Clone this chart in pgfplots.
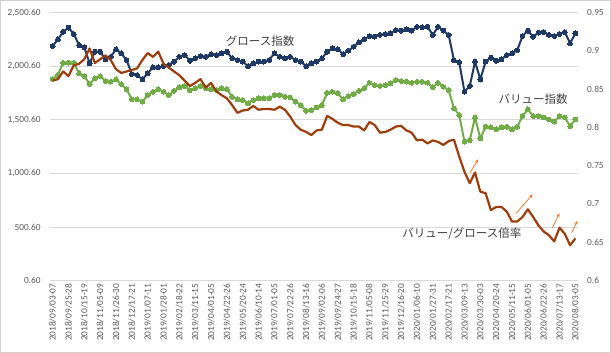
\documentclass[border=0pt]{standalone}
\usepackage{fontspec}
\setmainfont{Carlito}
\newfontfamily\jp{Noto Sans CJK JP}
\usepackage{pgfplots}
\pgfplotsset{compat=1.18}
\usepackage{pgfplotstable}
\usetikzlibrary{arrows.meta}
\definecolor{navy}{HTML}{203864}
\definecolor{vgreen}{HTML}{70AD47}
\definecolor{rbrown}{HTML}{9E3D0C}
\definecolor{arrowc}{HTML}{ED7D31}
\definecolor{gridgray}{HTML}{D9D9D9}
\definecolor{labelgray}{HTML}{595959}
\definecolor{textgray}{HTML}{404040}
\definecolor{bordergray}{HTML}{D0D0D0}

\pgfplotstableread{
idx growth value ratio
0 2188 1880 0.861
1 2250 1917 0.863
2 2321 2032 0.873
3 2359 2032 0.867
4 2300 2032 0.881
5 2197 1933 0.883
6 2176 1908 0.889
7 2026 1833 0.903
8 2135 1886 0.884
9 2135 1908 0.889
10 2064 1861 0.894
11 2088 1855 0.888
12 2157 1877 0.876
13 2120 1833 0.871
14 2057 1784 0.873
15 1927 1691 0.875
16 1917 1691 0.877
17 1877 1668 0.888
18 1933 1731 0.897
19 1989 1761 0.892
20 1989 1784 0.899
21 2001 1761 0.883
22 2011 1731 0.878
23 2042 1771 0.873
24 2088 1802 0.868
25 2104 1815 0.861
26 2051 1777 0.854
27 2073 1793 0.858
28 2095 1815 0.863
29 2088 1793 0.852
30 2113 1784 0.858
31 2104 1777 0.847
32 2120 1793 0.842
33 2135 1784 0.838
34 2073 1714 0.829
35 2057 1691 0.819
36 2042 1684 0.822
37 2001 1653 0.823
38 2026 1684 0.828
39 2042 1700 0.823
40 2042 1700 0.824
41 2057 1700 0.824
42 2120 1731 0.823
43 2088 1731 0.827
44 2073 1714 0.823
45 2088 1707 0.814
46 2057 1668 0.803
47 2042 1637 0.797
48 2001 1584 0.794
49 2026 1590 0.790
50 2042 1615 0.796
51 2073 1637 0.797
52 2135 1752 0.815
53 2166 1761 0.811
54 2157 1746 0.806
55 2113 1691 0.803
56 2144 1721 0.803
57 2181 1740 0.801
58 2222 1771 0.801
59 2250 1793 0.796
60 2281 1845 0.807
61 2275 1824 0.803
62 2291 1815 0.793
63 2300 1824 0.794
64 2306 1840 0.797
65 2337 1871 0.801
66 2331 1861 0.802
67 2344 1855 0.796
68 2331 1845 0.793
69 2368 1855 0.783
70 2362 1855 0.784
71 2368 1845 0.779
72 2291 1802 0.783
73 2368 1845 0.781
74 2331 1808 0.777
75 2291 1777 0.782
76 2057 1606 0.784
77 2036 1544 0.762
78 1761 1295 0.742
79 1815 1310 0.727
80 2042 1522 0.741
81 1877 1326 0.716
82 2042 1435 0.714
83 2079 1429 0.692
84 2051 1411 0.696
85 2064 1429 0.696
86 2104 1435 0.690
87 2120 1411 0.677
88 2151 1435 0.677
89 2281 1535 0.683
90 2331 1597 0.693
91 2275 1535 0.683
92 2312 1535 0.672
93 2318 1522 0.664
94 2291 1503 0.659
95 2281 1482 0.651
96 2300 1535 0.669
97 2318 1522 0.661
98 2213 1441 0.646
99 2306 1503 0.655
}\data

\begin{document}
\begin{tikzpicture}
\useasboundingbox (0,0) rectangle (611bp,353bp);
\draw[bordergray, line width=0.75bp] (0.5bp,0.5bp) rectangle (610.5bp,352.5bp);
\pgfplotsset{
  common/.style={
    at={(50bp,72.5bp)}, anchor=south west, scale only axis,
    width=528bp, height=268bp,
    xmin=-0.5, xmax=99.5,
    major tick length=0pt,
    tick label style={font=\fontsize{9.3bp}{11bp}\selectfont, text=labelgray},
    clip=false,
  }
}
\begin{axis}[common,
  ymin=0.6, ymax=2500.6,
  ytick={0.6,500.6,1000.6,1500.6,2000.6,2500.6},
  yticklabels={{0.60},{500.60},{1,000.60},{1,500.60},{2,000.60},{2,500.60}},
  xtick={0,3,...,99},
  xticklabels={2018/09/03-07,2018/09/25-28,2018/10/15-19,2018/11/05-09,2018/11/26-30,2018/12/17-21,2019/01/07-11,2019/01/28-01,2019/02/18-22,2019/03/11-15,2019/04/01-05,2019/04/22-26,2019/05/20-24,2019/06/10-14,2019/07/01-05,2019/07/22-26,2019/08/13-16,2019/09/02-06,2019/09/24-27,2019/10/15-18,2019/11/05-08,2019/11/25-29,2019/12/16-20,2020/01/06-10,2020/01/27-31,2020/02/17-21,2020/03/09-13,2020/03/30-03,2020/04/20-24,2020/05/11-15,2020/06/01-05,2020/06/22-26,2020/07/13-17,2020/08/03-05},
  axis x line*=bottom, axis y line*=left,
  x axis line style={draw=gridgray, line width=0.75bp, -},
  y axis line style={draw=none},
  ymajorgrids, grid style={draw=gridgray, line width=0.75bp},
  xticklabel style={rotate=90, anchor=east, inner sep=3bp},
  yticklabel style={inner sep=0pt, xshift=-9.3bp},
]
\addplot[navy, line width=2bp, mark=*, mark size=2.4bp, mark options={fill=navy, draw=navy, line width=0pt}] table[x=idx,y=growth]{\data};
\addplot[vgreen, line width=2bp, mark=*, mark size=2.4bp, mark options={fill=vgreen, draw=vgreen, line width=0pt}] table[x=idx,y=value]{\data};
\end{axis}
\begin{axis}[common,
  ymin=0.6, ymax=0.95,
  ytick={0.6,0.65,0.7,0.75,0.8,0.85,0.9,0.95},
  yticklabels={0.6,0.65,0.7,0.75,0.8,0.85,0.9,0.95},
  hide x axis,
  axis y line*=right,
  y axis line style={draw=none},
  yticklabel style={inner sep=0pt, xshift=9bp},
]
\addplot[rbrown, line width=2.2bp, no markers, line join=round] table[x=idx,y=ratio]{\data};
\draw[arrowc, line width=0.8bp, -{Stealth[length=4bp,width=3.5bp]}] (axis cs:79.05,0.7408) -- (axis cs:80.6,0.7583);
\draw[arrowc, line width=0.8bp, -{Stealth[length=4bp,width=3.5bp]}] (axis cs:87.8,0.6878) -- (axis cs:90.9,0.7126);
\draw[arrowc, line width=0.8bp, -{Stealth[length=4bp,width=3.5bp]}] (axis cs:94.6,0.6682) -- (axis cs:96.0,0.6878);
\draw[arrowc, line width=0.8bp, -{Stealth[length=4bp,width=3.5bp]}] (axis cs:98.3,0.6624) -- (axis cs:99.4,0.6781);
\node[text=textgray, font=\jp\fontsize{11.5bp}{13bp}\selectfont, inner sep=0pt] at (axis cs:39.3,0.9128) {グロース指数};
\node[text=textgray, font=\jp\fontsize{11.5bp}{13bp}\selectfont, inner sep=0pt] at (axis cs:91.0,0.837) {バリュー指数};
\node[text=textgray, font=\jp\fontsize{11.5bp}{13bp}\selectfont, inner sep=0pt] at (axis cs:77.5,0.6607) {バリュー/グロース倍率};
\end{axis}
\end{tikzpicture}
\end{document}
